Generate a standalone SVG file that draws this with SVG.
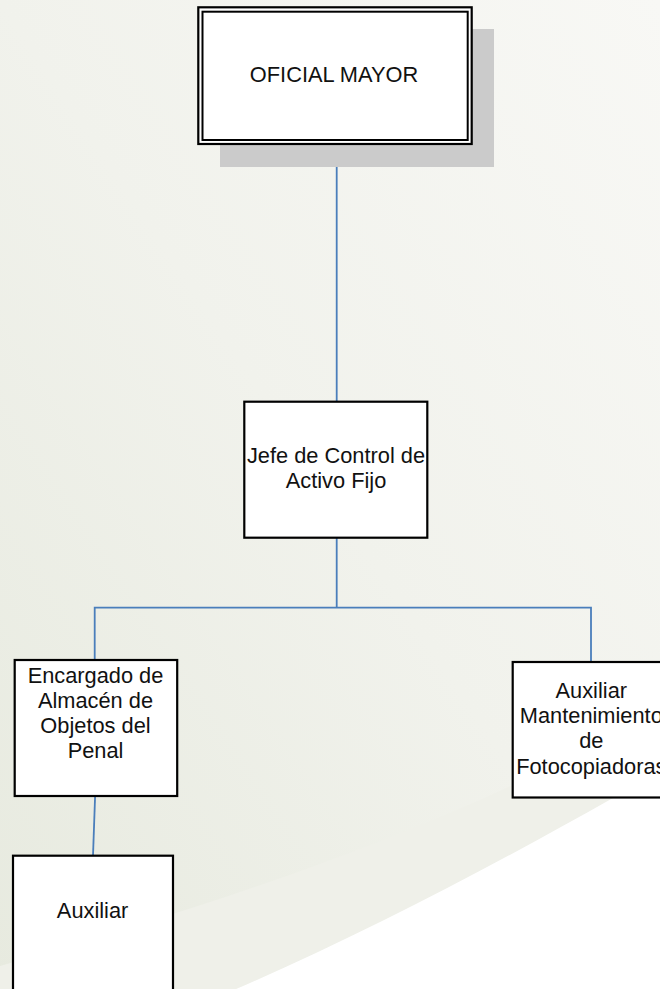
<svg xmlns="http://www.w3.org/2000/svg" width="660" height="989" viewBox="0 0 660 989">
<defs>
<linearGradient id="bg" x1="1" y1="0" x2="0" y2="1">
<stop offset="0" stop-color="#f8f8f5"/>
<stop offset="0.5" stop-color="#f1f2ec"/>
<stop offset="1" stop-color="#e7eadf"/>
</linearGradient>
<style>
.box{fill:#ffffff;stroke:#000000;stroke-width:2.2}
.lbl{font-family:"Liberation Sans",Arial,sans-serif;font-size:21.8px;fill:#111111;text-anchor:middle}
.conn{stroke:#4a7ebb;stroke-width:1.8;fill:none}
</style>
</defs>
<g id="background">
<rect x="0" y="0" width="660" height="989" fill="url(#bg)"/>
<path d="M0,966 C180,915 380,850 540,772 L700,690 L700,760 L613,798 C500,862 360,936 236,989 L0,989 Z" fill="#eff0e9"/>
<path d="M236,989 C360,936 500,862 613,798 L700,755 L700,989 Z" fill="#ffffff"/>
</g>
<g id="connectors">
<line class="conn" x1="336.7" y1="166" x2="336.7" y2="402"/>
<line class="conn" x1="336.7" y1="538" x2="336.7" y2="608"/>
<polyline class="conn" points="94.7,660 94.7,607.7 591,607.7 591,666"/>
<line class="conn" x1="95.1" y1="796" x2="93" y2="856"/>
</g>
<g id="oficial-mayor">
<rect x="220" y="29" width="274" height="138" fill="#cbcbcb"/>
<rect x="198.3" y="7.3" width="273.4" height="136.7" class="box"/>
<rect x="202.5" y="11.7" width="265.2" height="128.3" fill="none" stroke="#000" stroke-width="2"/>
<text class="lbl" x="334" y="82.3">OFICIAL MAYOR</text>
</g>
<g id="jefe">
<rect x="244.3" y="401.7" width="183" height="136" class="box"/>
<text class="lbl" x="336" y="462.7">Jefe de Control de</text>
<text class="lbl" x="336" y="488">Activo Fijo</text>
</g>
<g id="encargado">
<rect x="14.7" y="660" width="162.5" height="136" class="box"/>
<text class="lbl" x="95.5" y="682.7">Encargado de</text>
<text class="lbl" x="95.5" y="707.7">Almacén de</text>
<text class="lbl" x="95.5" y="733.3">Objetos del</text>
<text class="lbl" x="95.5" y="758.3">Penal</text>
</g>
<g id="auxiliar-mant">
<rect x="512.7" y="662" width="160" height="135.5" class="box"/>
<text class="lbl" x="591.3" y="697.5">Auxiliar</text>
<text class="lbl" x="591.3" y="723">Mantenimiento</text>
<text class="lbl" x="591.3" y="748.3">de</text>
<text class="lbl" x="591.3" y="774">Fotocopiadoras</text>
</g>
<g id="auxiliar">
<rect x="13" y="855.7" width="160" height="150" class="box"/>
<text class="lbl" x="92.6" y="918.3">Auxiliar</text>
</g>
</svg>
